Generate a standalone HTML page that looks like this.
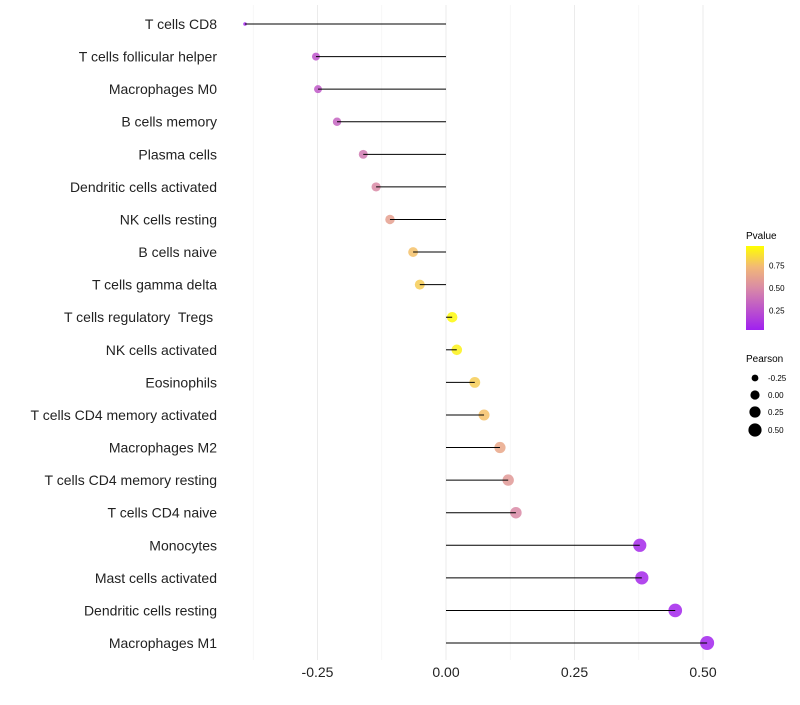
<!DOCTYPE html>
<html><head><meta charset="utf-8"><style>
body{margin:0;background:#fff;font-family:"Liberation Sans",sans-serif}
text{white-space:pre}
</style></head><body>
<svg id="c" width="800" height="700" xmlns="http://www.w3.org/2000/svg">
<defs><linearGradient id="pg" x1="0" y1="1" x2="0" y2="0">
<stop offset="0" stop-color="#a020f0"/><stop offset="0.5" stop-color="#d98aa6"/><stop offset="0.75" stop-color="#f2b877"/><stop offset="1" stop-color="#ffff00"/></linearGradient></defs>
<g id="grid"></g><g id="marks"></g><g id="labels"></g>
<g font-size="10">
<text x="746" y="239">Pvalue</text>
<rect x="746" y="246" width="18" height="84" fill="url(#pg)"/>
<text x="769" y="268.5" font-size="8">0.75</text>
<text x="769" y="291" font-size="8">0.50</text>
<text x="769" y="313.5" font-size="8">0.25</text>
</g>
<g font-size="10">
<text x="746" y="362">Pearson</text>
<circle cx="755" cy="378" r="3.4"/><text x="768" y="381" font-size="8">-0.25</text>
<circle cx="755" cy="395" r="4.6"/><text x="768" y="398" font-size="8">0.00</text>
<circle cx="755" cy="412" r="5.6"/><text x="768" y="415" font-size="8">0.25</text>
<circle cx="755" cy="430" r="6.6"/><text x="768" y="433" font-size="8">0.50</text>
</g>
</svg>
<script>
const categories=["T cells CD8","T cells follicular helper","Macrophages M0","B cells memory","Plasma cells","Dendritic cells activated","NK cells resting","B cells naive","T cells gamma delta","T cells regulatory  Tregs ","NK cells activated","Eosinophils","T cells CD4 memory activated","Macrophages M2","T cells CD4 memory resting","T cells CD4 naive","Monocytes","Mast cells activated","Dendritic cells resting","Macrophages M1"];
const pearson=[-0.391,-0.253,-0.249,-0.212,-0.161,-0.136,-0.109,-0.064,-0.051,0.012,0.021,0.056,0.074,0.105,0.121,0.136,0.377,0.381,0.446,0.508];
const pvalue=[0.03,0.25,0.27,0.32,0.42,0.5,0.62,0.78,0.82,0.98,0.95,0.82,0.78,0.66,0.58,0.5,0.04,0.04,0.03,0.02];
const xTicks=[-0.25,0,0.25,0.5];
const xTickLabels=["-0.25","0.00","0.25","0.50"];
const NS="http://www.w3.org/2000/svg";
const xs=v=>446+v*514;
const ys=i=>24+i*32.58;
const rs=v=>v<-0.3?1.8:Math.sqrt(Math.max(1,27+44*v));
function lerp(a,b,t){return a.map((x,i)=>Math.round(x+(b[i]-x)*t));}
function col(p){const s=[[0,[160,32,240]],[0.5,[217,138,166]],[0.75,[242,184,119]],[1,[255,255,0]]];
for(let i=1;i<s.length;i++){if(p<=s[i][0]){const t=(p-s[i-1][0])/(s[i][0]-s[i-1][0]);const c=lerp(s[i-1][1],s[i][1],t);return`rgb(${c})`;}}return"rgb(255,255,0)";}
function mk(t,a,p){const e=document.createElementNS(NS,t);for(const k in a)e.setAttribute(k,a[k]);p.appendChild(e);return e;}
const grid=document.getElementById('grid'),marks=document.getElementById('marks'),labels=document.getElementById('labels');
for(let v=-0.375;v<=0.5;v+=0.125){const major=xTicks.some(t=>Math.abs(t-v)<1e-9);
const l=mk('line',{x1:xs(v),x2:xs(v),y1:5,y2:660,stroke:major?'#ebebeb':'#f4f4f4','stroke-width':major?1:0.7},grid);

}
xTicks.forEach((v,i)=>{const t=mk('text',{x:xs(v),y:677,'text-anchor':'middle','font-size':14,fill:'#222'},labels);t.textContent=xTickLabels[i];

});
categories.forEach((c,i)=>{const y=ys(i);
const t=mk('text',{x:217,y:y+5,'text-anchor':'end','font-size':14,fill:'#222'},labels);t.textContent=c;


const d=mk('circle',{cx:xs(pearson[i]),cy:y,r:rs(pearson[i]),fill:col(pvalue[i]),'fill-opacity':0.85},marks);


const l=mk('line',{x1:xs(0),x2:xs(pearson[i]),y1:y,y2:y,stroke:'#000','stroke-width':1},marks);

});
</script>
</body></html>
